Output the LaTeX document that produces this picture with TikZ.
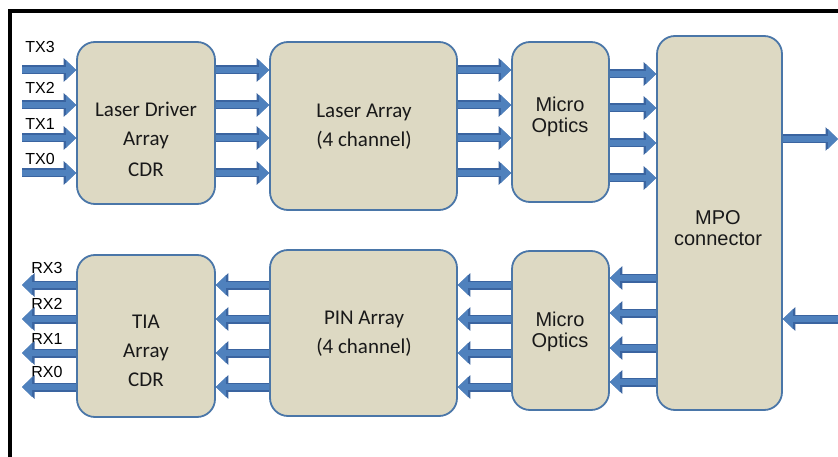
\documentclass[tikz,border=0pt]{standalone}
\usepackage{fontspec}
\setmainfont{Carlito}
\newfontfamily\arialfont{Liberation Sans}
\usetikzlibrary{arrows.meta}
\definecolor{boxfill}{HTML}{DDD9C3}
\definecolor{boxedge}{HTML}{4A76A8}
\definecolor{flowfill}{HTML}{4F81BD}
\definecolor{flowedge}{HTML}{3A64A0}
\tikzset{
  blk/.style={draw=boxedge, fill=boxfill, line width=1.8pt, rounded corners=18pt, inner sep=0pt},
  cal/.style={align=center, font=\fontsize{21}{29}\selectfont, text=black!90},
  ari/.style={align=center, font=\arialfont\fontsize{20}{21}\selectfont, text=black!90},
  sig/.style={font=\arialfont\fontsize{16}{18}\selectfont, inner sep=0pt},
  flow/.style={draw=flowfill, line width=6.5pt, -{Triangle[width=19pt,length=10pt]},
    preaction={draw=flowedge, line width=9pt, -{Triangle[width=23pt,length=12.5pt]}}}
}

\begin{document}
\begin{tikzpicture}[x=1pt,y=-1pt]
    \useasboundingbox (0,0) rectangle (838,457);
    \draw[line width=3.5pt] (10,457) -- (10,11) -- (838,11);
    % transmit side
    \node[blk, minimum width=138pt, minimum height=162pt] (ld) at (146,123) {};
    \node[blk, minimum width=187pt, minimum height=168pt] (la) at (363.5,126) {};
    \node[blk, minimum width=97pt, minimum height=160pt] (mot) at (560.5,122) {};
    \node[blk, minimum width=125pt, minimum height=374pt] (mpo) at (719.5,223) {};
    \node[cal] (ldtext) at (146,139) {Laser Driver\\Array\\[2pt]CDR};
    \node[cal] (latext) at (364,127) {Laser Array\\(4 channel)};
    \node[ari] (mottext) at (560,117) {Micro\\Optics};
    \node[ari] (mpotext) at (718,228) {MPO\\connector};
    % receive side
    \node[blk, minimum width=138pt, minimum height=162pt] (tia) at (146,336) {};
    \node[blk, minimum width=187pt, minimum height=166pt] (pin) at (363.5,333) {};
    \node[blk, minimum width=97pt, minimum height=159pt] (mob) at (560.5,330.5) {};
    \node[cal] (tiatext) at (146,351) {TIA\\Array\\CDR};
    \node[cal] (pintext) at (364,334) {PIN Array\\(4 channel)};
    \node[ari] (mobtext) at (560,332) {Micro\\Optics};
    % signal arrows
    \foreach \i/\y/\ly in {3/70/47,2/105/88,1/138/124,0/173/159} {
      \coordinate (tx\i) at (22,\y);
      \node[sig] (txl\i) at (40,\ly) {TX\i};
      \draw[flow] (tx\i) -- (ld.west |- tx\i);
      \draw[flow] (ld.east |- tx\i) -- (la.west |- tx\i);
      \draw[flow] (la.east |- tx\i) -- (mot.west |- tx\i);
    }
    \foreach \y in {74,108,143,178}
      \draw[flow] (mot.east |- 0,\y) -- (mpo.west |- 0,\y);
    \foreach \i/\y/\ly in {3/285/268,2/319/304,1/353/339,0/387/372} {
      \coordinate (rx\i) at (22,\y);
      \node[sig] (rxl\i) at (47,\ly) {RX\i};
      \draw[flow] (tia.west |- rx\i) -- (rx\i);
      \draw[flow] (pin.west |- rx\i) -- (tia.east |- rx\i);
      \draw[flow] (mob.west |- rx\i) -- (pin.east |- rx\i);
    }
    \foreach \y in {278,313,348,382}
      \draw[flow] (mpo.west |- 0,\y) -- (mob.east |- 0,\y);
    \coordinate (fibout) at (838,139);
    \coordinate (fibin) at (838,319);
    \draw[flow] (mpo.east |- fibout) -- (fibout);
    \draw[flow] (fibin) -- (mpo.east |- fibin);
  \end{tikzpicture}
\end{document}
